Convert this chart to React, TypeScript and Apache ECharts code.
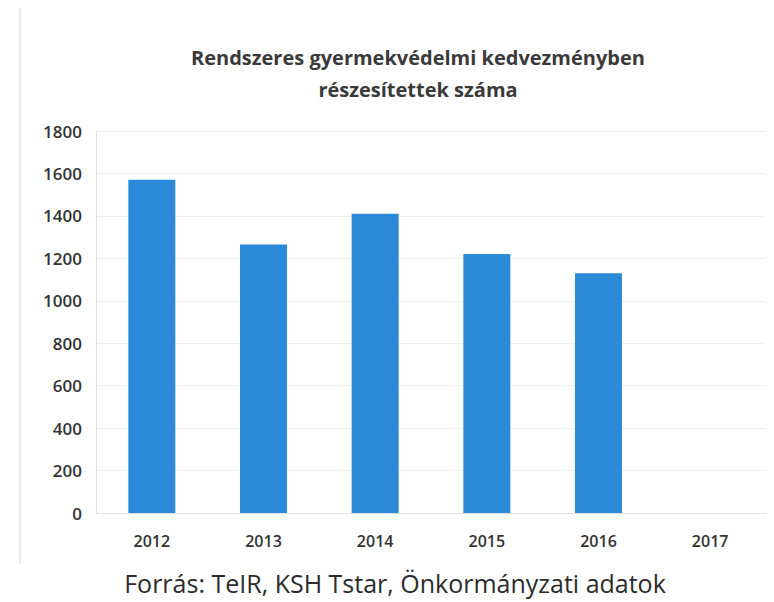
import React, { useEffect, useRef } from "react";
import * as echarts from "echarts";

const years = ["2012", "2013", "2014", "2015", "2016", "2017"];
const values: (number | null)[] = [1570, 1265, 1410, 1220, 1130, null];
const titleLines = ["Rendszeres gyermekvédelmi kedvezményben", "részesítettek száma"];
const sourceText = "Forrás: TeIR, KSH Tstar, Önkormányzati adatok";

export default function App() {
  const ref = useRef<HTMLDivElement>(null);
  useEffect(() => {
    if (!ref.current) return;
    const chart = echarts.init(ref.current, undefined, { renderer: "svg" });
    chart.setOption({
      animation: false,
      backgroundColor: "#ffffff",
      title: {
        text: titleLines.join("\n"),
        left: 405,
        textAlign: "center",
        top: 28,
        textStyle: {
          fontFamily: "Open Sans",
          fontWeight: "bold",
          fontSize: 20,
          lineHeight: 32,
          color: "#3a3a3a",
        },
      },
      grid: { left: 88, right: 16, top: 123, bottom: 97 },
      xAxis: {
        type: "category",
        data: years,
        axisLine: { show: true, lineStyle: { color: "#e0e0e0" } },
        axisTick: { show: false },
        axisLabel: {
          fontFamily: "Open Sans",
          fontWeight: 600,
          fontSize: 16,
          color: "#333333",
          margin: 20,
        },
      },
      yAxis: {
        type: "value",
        min: 0,
        max: 1800,
        interval: 200,
        axisLine: { show: true, lineStyle: { color: "#e0e0e0" } },
        axisTick: { show: false },
        splitLine: { lineStyle: { color: "#eeeeee" } },
        axisLabel: {
          fontFamily: "Open Sans",
          fontWeight: 600,
          fontSize: 17,
          color: "#333333",
          margin: 14,
          formatter: (v: number) => String(v),
        },
      },
      series: [
        {
          type: "bar",
          data: values,
          barWidth: 47,
          itemStyle: { color: "#2b8ad8" },
        },
      ],
      graphic: [
        {
          type: "line",
          shape: { x1: 12, y1: 0, x2: 12, y2: 556 },
          style: { stroke: "#d8d8d8", lineWidth: 1 },
        },
        {
          type: "text",
          left: "center",
          top: 562,
          style: {
            text: sourceText,
            fontFamily: "Open Sans",
            fontSize: 25,
            fill: "#2b2b2b",
          },
        },
      ],
    });
    return () => chart.dispose();
  }, []);
  return <div ref={ref} style={{ width: 774, height: 602 }} />;
}
